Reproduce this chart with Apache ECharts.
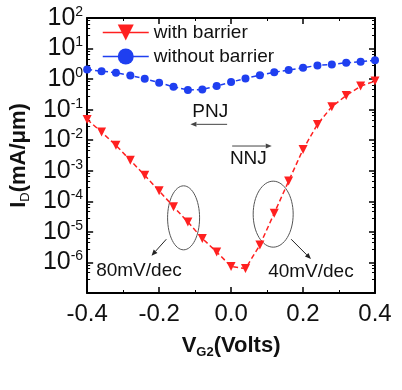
<!DOCTYPE html>
<html>
<head>
<meta charset="utf-8">
<script src="https://cdn.jsdelivr.net/npm/echarts@6/dist/echarts.min.js"></script>
<style>
  html, body { margin: 0; padding: 0; background: #fff; }
  #chart { width: 402px; height: 390px; }
</style>
</head>
<body>
<div id="chart"></div>
<script>
// gate voltage V_G2 (V)
const vg2 = [-0.4, -0.36, -0.32, -0.28, -0.24, -0.2, -0.16, -0.12, -0.08, -0.04, 0,
  0.04, 0.08, 0.12, 0.16, 0.2, 0.24, 0.28, 0.32, 0.36, 0.4]
// I_D (mA/um)
const withBarrier = [0.048, 0.0185, 0.0068, 0.0022, 7.1e-4, 2.2e-4, 6.7e-5, 2.1e-5, 6.1e-6, 2.2e-6, 7.4e-7,
  6.3e-7, 3.7e-6, 4.1e-5, 4.6e-4, 5.0e-3, 0.033, 0.125, 0.29, 0.59, 0.86]
const withoutBarrier = [2.07, 1.82, 1.62, 1.32, 1.03, 0.76, 0.56, 0.44, 0.46, 0.59, 0.80,
  1.05, 1.35, 1.69, 1.97, 2.36, 2.81, 3.02, 3.44, 3.70, 4.18]
const seriesNames = ["with barrier", "without barrier"]
const xRange = [-0.4, 0.4]
const yRange = [1e-7, 1e2]

const FONT = "Liberation Sans, Arial, sans-serif"
const RED = "#ff2020"
const BLUE = "#1f3ff0"

const pair = (a, b) => a.map((v, i) => [v, b[i]])

const chart = echarts.init(document.getElementById("chart"))

const tickStyle = { show: true, inside: true, length: 6, lineStyle: { color: "#000", width: 1.5 } }
const minorStyle = { show: true, splitNumber: 2, length: 3, lineStyle: { color: "#000", width: 1 } }
const lineStyle = { show: true, onZero: false, lineStyle: { color: "#000", width: 2 } }
const yMinor = { show: true, splitNumber: 5, length: 3, lineStyle: { color: "#000", width: 1 } }

chart.setOption({
  animation: false,
  textStyle: { fontFamily: FONT },
  grid: { left: 83, right: 27, top: 18, bottom: 97 },
  legend: {
    orient: "vertical",
    left: 102,
    top: 23,
    padding: 0,
    itemWidth: 46,
    itemHeight: 20,
    itemGap: 5,
    data: seriesNames,
    lineStyle: { type: "solid", width: 1.5 },
    textStyle: { fontSize: 19, color: "#111", fontFamily: FONT },
  },
  xAxis: [
    {
      type: "value",
      min: xRange[0],
      max: xRange[1],
      interval: 0.2,
      axisLine: lineStyle,
      axisTick: tickStyle,
      minorTick: minorStyle,
      splitLine: { show: false },
      axisLabel: {
        fontSize: 24, color: "#111", margin: 9,
        formatter: (v) => v.toFixed(1),
      },
      name: "{b|V}{s|G2}{b|(Volts)}",
      nameLocation: "middle",
      nameGap: 40,
      nameTextStyle: {
        rich: {
          b: { fontSize: 22, fontWeight: "bold", color: "#111", lineHeight: 26 },
          s: { fontSize: 13, fontWeight: "bold", color: "#111", lineHeight: 13, verticalAlign: "bottom" },
        },
      },
    },
    {
      type: "value",
      position: "top",
      min: xRange[0],
      max: xRange[1],
      interval: 0.2,
      axisLine: lineStyle,
      axisTick: tickStyle,
      minorTick: minorStyle,
      splitLine: { show: false },
      axisLabel: { show: false },
    },
  ],
  yAxis: [
    {
      type: "log",
      logBase: 10,
      min: yRange[0],
      max: yRange[1],
      interval: 1,
      axisLine: lineStyle,
      axisTick: tickStyle,
      minorTick: yMinor,
      splitLine: { show: false },
      axisLabel: {
        margin: 4,
        formatter: (v) => {
          const e = Math.round(Math.log10(v))
          return e < -6 ? "" : "{b|10}{e|" + e + "}"
        },
        rich: {
          b: { fontSize: 25, color: "#111", lineHeight: 26 },
          e: { fontSize: 14, color: "#111", lineHeight: 14, verticalAlign: "top" },
        },
      },
      name: "{b|I}{s|D}{b|(mA/μm)}",
      nameLocation: "middle",
      nameGap: 50,
      nameTextStyle: {
        rich: {
          b: { fontSize: 22, fontWeight: "bold", color: "#111", lineHeight: 26 },
          s: { fontSize: 13, color: "#111", lineHeight: 13, verticalAlign: "bottom" },
        },
      },
    },
    {
      type: "log",
      logBase: 10,
      position: "right",
      min: yRange[0],
      max: yRange[1],
      interval: 1,
      axisLine: lineStyle,
      axisTick: tickStyle,
      minorTick: yMinor,
      splitLine: { show: false },
      axisLabel: { show: false },
    },
  ],
  series: [
    {
      name: seriesNames[0],
      type: "line",
      data: pair(vg2, withBarrier),
      symbol: "triangle",
      symbolRotate: 180,
      symbolSize: 9,
      color: RED,
      lineStyle: { color: RED, width: 1.5, type: [5, 3] },
      itemStyle: { color: RED },
    },
    {
      name: seriesNames[1],
      type: "line",
      data: pair(vg2, withoutBarrier),
      symbol: "circle",
      symbolSize: 8,
      color: BLUE,
      lineStyle: { color: BLUE, width: 1.5, type: [5, 3] },
      itemStyle: { color: BLUE },
    },
  ],
})

// annotations placed in data coordinates
const px = (x, logy) => chart.convertToPixel({ xAxisIndex: 0, yAxisIndex: 0 }, [x, Math.pow(10, logy)])

function arrow(from, to, color) {
  const a = px(from[0], from[1])
  const b = px(to[0], to[1])
  const ang = Math.atan2(b[1] - a[1], b[0] - a[0])
  const L = 6, W = 2.5
  const bx = b[0] - L * Math.cos(ang), by = b[1] - L * Math.sin(ang)
  return [
    { type: "line", shape: { x1: a[0], y1: a[1], x2: bx, y2: by }, style: { stroke: color, lineWidth: 1 } },
    {
      type: "polygon",
      shape: {
        points: [
          [b[0], b[1]],
          [bx + W * Math.sin(ang), by - W * Math.cos(ang)],
          [bx - W * Math.sin(ang), by + W * Math.cos(ang)],
        ],
      },
      style: { fill: color },
    },
  ]
}

function label(text, x, logy, align) {
  const p = px(x, logy)
  return {
    type: "text", x: p[0], y: p[1],
    style: { text: text, fontSize: 19, fontFamily: FONT, fill: "#111", align: align, verticalAlign: "middle" },
  }
}

function ellipse(x, logy, rx, ry) {
  const p = px(x, logy)
  return { type: "ellipse", shape: { cx: p[0], cy: p[1], rx: rx, ry: ry }, style: { fill: "none", stroke: "#555", lineWidth: 1 } }
}

chart.setOption({
  graphic: [
    ellipse(-0.132, -4.54, 16, 32),
    ellipse(0.117, -4.42, 20, 33),
    ...arrow([-0.18, -5.24], [-0.221, -5.78], "#222"),
    ...arrow([0.167, -5.24], [0.222, -5.89], "#222"),
    label("80mV/dec", -0.375, -6.27, "left"),
    label("40mV/dec", 0.103, -6.32, "left"),
    label("PNJ", -0.058, -1.06, "center"),
    ...arrow([-0.011, -1.48], [-0.113, -1.48], "#444"),
    ...arrow([0.003, -2.19], [0.113, -2.19], "#444"),
    label("NNJ", 0.048, -2.62, "center"),
  ],
})
</script>
</body>
</html>
